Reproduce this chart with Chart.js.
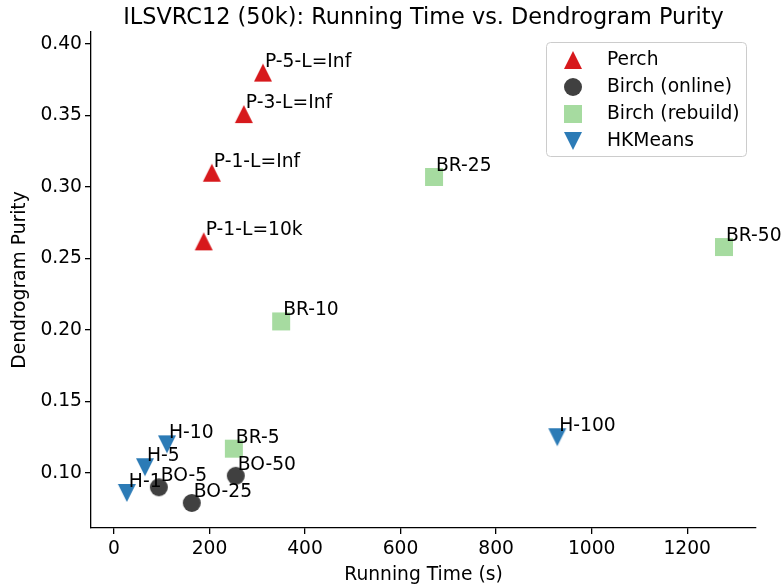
<!DOCTYPE html>
<html>
<head>
<meta charset="utf-8">
<script src="https://cdn.jsdelivr.net/npm/chart.js@4.4.1/dist/chart.umd.min.js"></script>
<style>
  html, body { margin: 0; padding: 0; background: #fff; }
</style>
</head>
<body>
<canvas id="chart" width="782" height="588"></canvas>
<script>
// values
const TITLE = "ILSVRC12 (50k): Running Time vs. Dendrogram Purity";

const perchNames = ["P-5-L=Inf", "P-3-L=Inf", "P-1-L=Inf", "P-1-L=10k"];
const perchTime = [312, 272, 205, 188];
const perchPurity = [0.380, 0.351, 0.310, 0.262];

const onlineNames = ["BO-5", "BO-25", "BO-50"];
const onlineTime = [94, 163, 255];
const onlinePurity = [0.090, 0.079, 0.098];

const rebuildNames = ["BR-5", "BR-10", "BR-25", "BR-50"];
const rebuildTime = [251, 350, 670, 1277];
const rebuildPurity = [0.117, 0.206, 0.307, 0.258];

const hkNames = ["H-1", "H-5", "H-10", "H-100"];
const hkTime = [27, 65, 111, 928];
const hkPurity = [0.086, 0.104, 0.120, 0.125];

const xTicks = [0, 200, 400, 600, 800, 1000, 1200];
const yTicks = [0.10, 0.15, 0.20, 0.25, 0.30, 0.35, 0.40];

const FONT = "'DejaVu Sans', sans-serif";
const FS = 18.7;
Chart.defaults.font.family = FONT;
Chart.defaults.font.size = FS;
Chart.defaults.color = "#000";

// matplotlib-like markers, 18px
function makeMarker(shape, color) {
  const s = 18, pad = 2;
  const c = document.createElement("canvas");
  c.width = c.height = s + pad * 2;
  const ctx = c.getContext("2d");
  const m = c.width / 2, h = s / 2;
  ctx.fillStyle = color;
  ctx.beginPath();
  if (shape === "up") {
    ctx.moveTo(m, m - h); ctx.lineTo(m + h, m + h); ctx.lineTo(m - h, m + h);
  } else if (shape === "down") {
    ctx.moveTo(m, m + h); ctx.lineTo(m + h, m - h); ctx.lineTo(m - h, m - h);
  } else if (shape === "circle") {
    ctx.arc(m, m, h, 0, Math.PI * 2);
  } else {
    ctx.rect(m - h, m - h, s, s);
  }
  ctx.closePath();
  ctx.fill();
  return c;
}

function toPoints(xs, ys) {
  return xs.map((x, i) => ({ x: x, y: ys[i] }));
}

function series(label, names, xs, ys, marker) {
  return {
    label: label,
    names: names,
    data: toPoints(xs, ys),
    pointStyle: marker,
    pointRadius: 10,
    showLine: false
  };
}

const datasets = [
  series("Perch", perchNames, perchTime, perchPurity, makeMarker("up", "#d7191c")),
  series("Birch (online)", onlineNames, onlineTime, onlinePurity, makeMarker("circle", "#404040")),
  series("Birch (rebuild)", rebuildNames, rebuildTime, rebuildPurity, makeMarker("square", "#a6dba0")),
  series("HKMeans", hkNames, hkTime, hkPurity, makeMarker("down", "#2c7bb6"))
];

// text next to every point
const pointLabels = {
  id: "pointLabels",
  afterDatasetsDraw(chart) {
    const ctx = chart.ctx;
    ctx.save();
    ctx.font = FS + "px " + FONT;
    ctx.fillStyle = "#000";
    ctx.textAlign = "left";
    ctx.textBaseline = "alphabetic";
    chart.data.datasets.forEach((ds, i) => {
      chart.getDatasetMeta(i).data.forEach((el, j) => {
        ctx.fillText(ds.names[j], el.x + 2, el.y - 6);
      });
    });
    ctx.restore();
  }
};

// title centred on the plot area + legend box in the upper right
const decor = {
  id: "decor",
  afterDraw(chart) {
    const ctx = chart.ctx;
    const area = chart.chartArea;
    ctx.save();
    ctx.fillStyle = "#000";
    ctx.font = "22.4px " + FONT;
    ctx.textAlign = "center";
    ctx.textBaseline = "alphabetic";
    ctx.fillText(TITLE, (area.left + area.right) / 2, 23.5);

    const bx = 546.5, by = 42.5, bw = 200, bh = 114;
    ctx.beginPath();
    ctx.roundRect(bx, by, bw, bh, 4);
    ctx.fillStyle = "rgba(255,255,255,0.8)";
    ctx.fill();
    ctx.strokeStyle = "#cccccc";
    ctx.lineWidth = 1;
    ctx.stroke();

    ctx.font = FS + "px " + FONT;
    ctx.textAlign = "left";
    ctx.textBaseline = "middle";
    chart.data.datasets.forEach((ds, i) => {
      const cy = 60 + i * 27;
      const img = ds.pointStyle;
      ctx.drawImage(img, 573 - img.width / 2, cy - img.height / 2);
      ctx.fillStyle = "#000";
      ctx.fillText(ds.label, 607, cy);
    });
    ctx.restore();
  }
};

const axisStyle = {
  grid: { drawOnChartArea: false, drawTicks: true, tickLength: 6, color: "#000", lineWidth: 1.3 },
  border: { display: true, color: "#000", width: 1.3 }
};

new Chart(document.getElementById("chart"), {
  type: "scatter",
  data: { datasets: datasets },
  plugins: [pointLabels, decor],
  options: {
    responsive: false,
    animation: false,
    layout: { padding: { left: 0, right: 26, top: 32, bottom: 0 } },
    plugins: {
      legend: { display: false },
      title: { display: false },
      tooltip: { enabled: false }
    },
    scales: {
      x: {
        type: "linear",
        min: -48,
        max: 1344,
        ...axisStyle,
        afterBuildTicks: (scale) => { scale.ticks = xTicks.map(v => ({ value: v })); },
        afterFit: (scale) => { scale.height = 60; },
        ticks: { padding: 4, maxRotation: 0, callback: (v) => String(v) },
        title: { display: true, text: "Running Time (s)", padding: { top: 0, bottom: 2 } }
      },
      y: {
        type: "linear",
        min: 0.0615,
        max: 0.4084,
        ...axisStyle,
        afterBuildTicks: (scale) => { scale.ticks = yTicks.map(v => ({ value: v })); },
        afterFit: (scale) => { scale.width = 91; },
        ticks: { padding: 3, callback: (v) => v.toFixed(2) },
        title: { display: true, text: "Dendrogram Purity", padding: { top: 9, bottom: 0 } }
      }
    }
  }
});
</script>
</body>
</html>
